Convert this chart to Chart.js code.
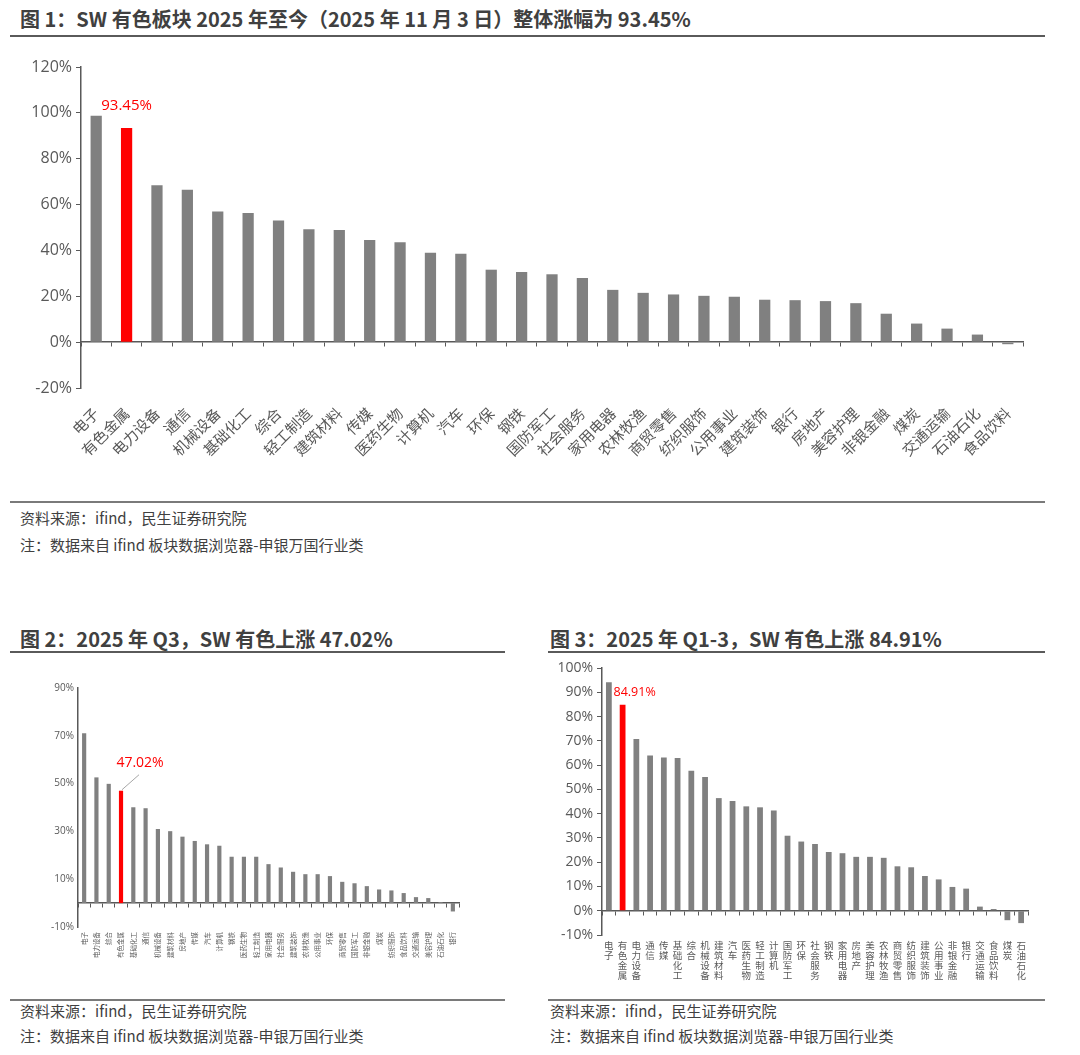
<!DOCTYPE html>
<html>
<head>
<meta charset="utf-8">
<script src="https://cdn.jsdelivr.net/npm/chart.js@4"></script>
<style>
  body { margin: 0; background: #fff; width: 1080px; height: 1055px; position: relative; overflow: hidden;
         font-family: 'Noto Sans CJK SC', sans-serif; color: #404040; }
  .title { position: absolute; font-weight: bold; font-size: 20px; white-space: nowrap; }
  .rule { position: absolute; height: 2px; background: #5a5a5a; }
  .note { position: absolute; font-size: 15px; white-space: nowrap; color: #404040; }
  .box { position: absolute; }
</style>
</head>
<body>
<div class="title" style="left:20px; top:4px;">图 1：SW 有色板块 2025 年至今（2025 年 11 月 3 日）整体涨幅为 93.45%</div>
<div class="rule" style="left:10px; top:35px; width:1035px;"></div>
<div class="box" style="left:10px; top:50px; width:1030px; height:420px;"><canvas id="c1"></canvas></div>
<div class="rule" style="left:10px; top:501px; width:1035px; background:#7a7a7a;"></div>
<div class="note" style="left:20px; top:507px;">资料来源：ifind，民生证券研究院</div>
<div class="note" style="left:20px; top:534px;">注：数据来自 ifind 板块数据浏览器-申银万国行业类</div>

<div class="title" style="left:20px; top:624px;">图 2：2025 年 Q3，SW 有色上涨 47.02%</div>
<div class="rule" style="left:10px; top:651px; width:495px;"></div>
<div class="box" style="left:10px; top:670px; width:490px; height:325px;"><canvas id="c2"></canvas></div>
<div class="rule" style="left:10px; top:999px; width:495px; background:#7a7a7a;"></div>
<div class="note" style="left:20px; top:1000px;">资料来源：ifind，民生证券研究院</div>
<div class="note" style="left:20px; top:1025px;">注：数据来自 ifind 板块数据浏览器-申银万国行业类</div>

<div class="title" style="left:550px; top:624px;">图 3：2025 年 Q1-3，SW 有色上涨 84.91%</div>
<div class="rule" style="left:548px; top:651px; width:497px;"></div>
<div class="box" style="left:548px; top:655px; width:495px; height:340px;"><canvas id="c3"></canvas></div>
<div class="rule" style="left:548px; top:999px; width:497px; background:#7a7a7a;"></div>
<div class="note" style="left:550px; top:1000px;">资料来源：ifind，民生证券研究院</div>
<div class="note" style="left:550px; top:1025px;">注：数据来自 ifind 板块数据浏览器-申银万国行业类</div>

<script>
// 图1：2025年至今
const ytdSectors = ['电子','有色金属','电力设备','通信','机械设备','基础化工','综合','轻工制造','建筑材料','传媒',
  '医药生物','计算机','汽车','环保','钢铁','国防军工','社会服务','家用电器','农林牧渔','商贸零售',
  '纺织服饰','公用事业','建筑装饰','银行','房地产','美容护理','非银金融','煤炭','交通运输','石油石化','食品饮料'];
const ytdValues = [98.7, 93.45, 68.4, 66.5, 57.0, 56.3, 53.1, 49.2, 48.9, 44.6,
  43.6, 39.0, 38.5, 31.6, 30.6, 29.6, 28.0, 22.8, 21.5, 20.8,
  20.2, 19.8, 18.5, 18.3, 17.9, 17.0, 12.4, 8.1, 5.9, 3.3, -0.9];
const ytdTicks = { min: -20, max: 120, step: 20 };

// 图2：2025年Q3
const q3Sectors = ['电子','电力设备','综合','有色金属','基础化工','通信','机械设备','建筑材料','房地产','传媒',
  '汽车','计算机','钢铁','医药生物','轻工制造','家用电器','社会服务','建筑装饰','农林牧渔','公用事业',
  '环保','商贸零售','国防军工','非银金融','煤炭','纺织服饰','食品饮料','交通运输','美容护理','石油石化','银行'];
const q3Values = [71.1, 52.6, 49.9, 47.02, 40.1, 39.7, 31.0, 30.1, 27.8, 26.0,
  24.6, 24.0, 19.4, 19.4, 19.4, 16.3, 14.9, 13.1, 12.1, 12.1,
  11.3, 8.9, 8.3, 7.1, 5.7, 5.3, 4.2, 2.5, 2.1, 0.4, -3.5];
const q3Ticks = { min: -10, max: 90, step: 20 };

// 图3：2025年Q1-3
const q13Sectors = ['电子','有色金属','电力设备','通信','传媒','基础化工','综合','机械设备','建筑材料','汽车',
  '医药生物','轻工制造','计算机','国防军工','环保','社会服务','钢铁','家用电器','房地产','美容护理',
  '农林牧渔','商贸零售','纺织服饰','建筑装饰','公用事业','非银金融','银行','交通运输','食品饮料','煤炭','石油石化'];
const q13Values = [94.1, 84.91, 70.7, 63.9, 63.1, 62.9, 57.7, 55.1, 46.4, 45.2,
  43.0, 42.6, 41.3, 30.9, 28.5, 27.5, 24.2, 23.7, 22.2, 22.2,
  21.8, 18.3, 17.9, 14.3, 12.9, 9.8, 9.1, 1.7, 0.7, -3.9, -5.1];
const q13Ticks = { min: -10, max: 100, step: 10 };

const highlight = '有色金属';
const GREY = '#808080', RED = '#ff0000', AXIS = '#595959', TXT = '#595959';
const NUMFONT = "'Open Sans', 'Noto Sans CJK SC', sans-serif";
const CJKFONT = "'Noto Sans CJK SC', sans-serif";

// red value label above the highlighted bar, optional leader line
const callout = {
  id: 'callout',
  afterDatasetsDraw(chart, args, opts) {
    const ds = chart.data.datasets[0];
    const i = chart.data.labels.indexOf(highlight);
    const bar = chart.getDatasetMeta(0).data[i];
    const ctx = chart.ctx;
    ctx.save();
    if (opts.line) {
      ctx.strokeStyle = '#a6a6a6';
      ctx.lineWidth = 1;
      ctx.beginPath();
      ctx.moveTo(bar.x + 1, bar.y - 1);
      ctx.lineTo(bar.x + opts.line[0], bar.y + opts.line[1]);
      ctx.stroke();
    }
    ctx.fillStyle = RED;
    ctx.font = opts.size + 'px ' + NUMFONT;
    ctx.textAlign = 'center';
    ctx.textBaseline = 'middle';
    ctx.fillText(ds.data[i].toFixed(2) + '%', bar.x + opts.dx, bar.y + opts.dy);
    ctx.restore();
  }
};

function makeChart(id, cfg) {
  const colors = cfg.labels.map(l => l === highlight ? RED : GREY);
  return new Chart(document.getElementById(id), {
    type: 'bar',
    data: {
      labels: cfg.labels,
      datasets: [{ data: cfg.values, backgroundColor: colors, borderWidth: 0,
                   barPercentage: cfg.barPct, categoryPercentage: 1 }]
    },
    options: {
      responsive: true,
      maintainAspectRatio: false,
      animation: false,
      layout: { padding: { top: cfg.padTop, right: cfg.padRight, left: 0, bottom: 0 } },
      scales: {
        x: {
          offset: true,
          grid: { display: false, drawTicks: false },
          border: { display: false },
          ticks: Object.assign({ color: TXT, autoSkip: false, font: { size: cfg.xFont, family: CJKFONT, lineHeight: 1.05 } }, cfg.xTicks),
          afterFit: s => { s.height = cfg.xHeight; }
        },
        x2: {
          type: 'category',
          position: { y: 0 },
          offset: true,
          grid: { offset: true, drawOnChartArea: false, tickLength: 4, color: AXIS, lineWidth: 1 },
          border: { color: AXIS, width: 1.5 },
          ticks: { display: false }
        },
        y: {
          min: cfg.ticks.min,
          max: cfg.ticks.max,
          grid: { drawOnChartArea: false, drawTicks: cfg.yTickMarks, tickLength: 5, color: AXIS },
          border: { color: AXIS, width: 1.5 },
          ticks: { stepSize: cfg.ticks.step, color: TXT, padding: 4,
                   font: { size: cfg.yFont, family: NUMFONT },
                   callback: v => v + '%' },
          afterFit: s => { s.width = cfg.yWidth; }
        }
      },
      plugins: {
        legend: { display: false },
        tooltip: { enabled: false },
        callout: cfg.callout
      }
    },
    plugins: [callout]
  });
}

makeChart('c1', {
  labels: ytdSectors, values: ytdValues, ticks: ytdTicks, barPct: 0.37,
  padTop: 17, padRight: 17, yWidth: 71, xHeight: 82, yFont: 16, xFont: 15, yTickMarks: true,
  xTicks: { minRotation: 45, maxRotation: 45, padding: 17 },
  callout: { dx: 0, dy: -22, size: 15 }
});

makeChart('c2', {
  labels: q3Sectors, values: q3Values, ticks: q3Ticks, barPct: 0.34,
  padTop: 18, padRight: 41, yWidth: 68, xHeight: 68, yFont: 10, xFont: 6.5, yTickMarks: false,
  xTicks: { minRotation: 90, maxRotation: 90, padding: 5 },
  callout: { dx: 19, dy: -28, size: 14, line: [18, -16] }
});

makeChart('c3', {
  labels: q13Sectors, values: q13Values, ticks: q13Ticks, barPct: 0.42,
  padTop: 13, padRight: 15, yWidth: 54, xHeight: 60, yFont: 14, xFont: 9.5, yTickMarks: true,
  xTicks: { maxRotation: 0, minRotation: 0, padding: 5, callback: function (v) { return this.getLabelForValue(v).split(''); } },
  callout: { dx: 12, dy: -12, size: 12.5 }
});
</script>
</body>
</html>
